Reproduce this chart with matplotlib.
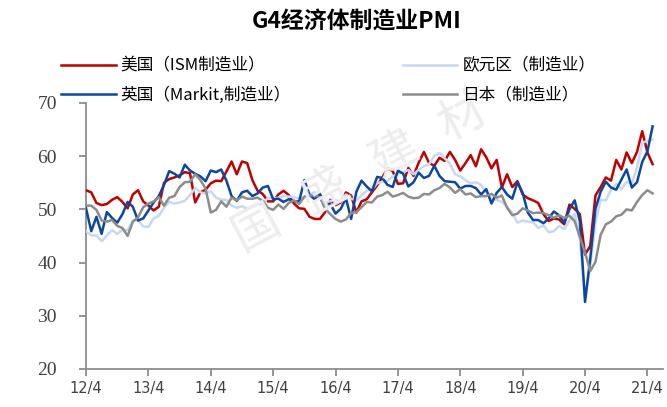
import numpy as np
import matplotlib
matplotlib.use("Agg")
import matplotlib.pyplot as plt

plt.rcParams['font.family'] = ['Noto Sans CJK SC', 'DejaVu Sans']

# monthly PMI, 2012/4 - 2021/5
us_ism = [
    53.6, 53.2, 51.2, 50.8, 51.0, 51.8, 52.3, 51.4, 50.2,
    52.8, 53.6, 51.5, 50.7, 49.8, 50.5, 55.0, 55.7, 56.0, 56.4, 57.0, 56.8,
    51.3, 53.2, 53.7, 54.9, 55.4, 55.3, 57.1, 59.0, 56.6, 59.0, 58.7, 55.5,
    53.5, 52.9, 51.5, 51.5, 52.8, 53.5, 52.7, 51.1, 50.2, 50.1, 48.6, 48.2,
    48.2, 49.5, 51.8, 50.8, 51.3, 53.2, 52.6, 49.4, 51.5, 51.9, 53.2, 54.5,
    56.0, 57.7, 57.2, 54.8, 54.9, 57.8, 56.3, 58.8, 60.8, 58.7, 58.2, 59.7,
    59.1, 60.8, 59.3, 57.3, 58.7, 60.2, 58.1, 61.3, 59.8, 57.7, 59.3, 54.1,
    56.6, 54.2, 55.3, 52.8, 52.1, 51.7, 51.2, 49.1, 47.8, 48.3, 48.1, 47.2,
    50.9, 50.1, 49.1, 41.5, 43.1, 52.6, 54.2, 56.0, 55.4, 59.3, 57.5, 60.7,
    58.7, 60.8, 64.7, 60.7, 58.5,
]
eurozone = [
    45.9, 45.1, 45.1, 44.0, 45.1, 46.1, 45.4, 46.2, 46.1,
    47.9, 47.9, 46.8, 46.7, 48.3, 48.8, 50.3, 51.4, 51.1, 51.3, 51.6, 52.7,
    54.0, 53.2, 53.0, 53.4, 52.2, 51.8, 51.8, 50.7, 50.3, 50.6, 50.1, 50.6,
    51.0, 51.0, 52.2, 52.0, 52.2, 52.5, 52.4, 52.3, 52.0, 52.3, 52.8, 53.2,
    52.3, 51.2, 51.6, 51.7, 51.5, 52.8, 52.0, 51.7, 52.6, 53.5, 53.7, 54.9,
    55.2, 55.4, 56.2, 56.7, 57.0, 57.4, 56.6, 57.4, 58.1, 58.5, 60.1, 60.6,
    59.6, 58.6, 56.6, 56.2, 55.5, 54.9, 55.1, 54.6, 53.2, 52.0, 51.8, 51.4,
    50.5, 49.3, 47.5, 47.9, 47.7, 47.6, 46.5, 47.0, 45.7, 45.9, 46.9, 46.3,
    47.9, 49.2, 44.5, 33.4, 39.4, 47.4, 51.8, 51.7, 53.7, 54.8, 53.8, 55.2,
    54.8, 57.9, 62.5, 62.9, 63.1,
]
uk_markit = [
    50.2, 45.9, 48.6, 45.4, 49.5, 48.4, 47.5, 49.1, 51.4,
    50.5, 47.9, 48.3, 49.8, 51.3, 52.5, 54.6, 57.2, 56.7, 56.0, 58.4, 57.3,
    56.7, 56.2, 55.3, 57.3, 57.0, 57.5, 55.4, 52.5, 51.6, 53.2, 53.5, 52.5,
    53.0, 54.1, 54.4, 51.9, 52.0, 51.4, 51.9, 51.5, 51.5, 55.5, 52.7, 51.9,
    52.9, 50.8, 51.0, 49.2, 50.1, 52.1, 48.2, 53.3, 55.4, 54.3, 53.4, 56.1,
    55.9, 54.6, 54.2, 57.3, 56.7, 54.3, 55.1, 56.9, 55.9, 56.3, 58.2, 56.3,
    55.3, 55.2, 55.1, 53.9, 54.4, 54.4, 54.0, 52.8, 53.8, 51.1, 53.1, 54.2,
    52.8, 52.0, 55.1, 53.1, 49.4, 48.0, 48.0, 47.4, 48.3, 49.6, 48.9, 47.5,
    50.0, 51.7, 47.8, 32.6, 40.7, 50.1, 53.3, 55.2, 54.1, 53.7, 55.6, 57.5,
    54.1, 55.1, 58.9, 60.9, 65.6,
]
japan = [
    50.7, 50.7, 49.9, 47.9, 47.7, 48.0, 46.9, 46.5, 45.0,
    47.7, 48.5, 50.4, 51.1, 51.5, 52.3, 50.7, 52.2, 52.5, 54.2, 55.1, 55.2,
    56.6, 55.5, 53.9, 49.4, 49.9, 51.5, 50.5, 52.2, 51.7, 52.4, 52.0, 52.0,
    52.2, 51.6, 50.3, 49.9, 50.9, 50.1, 51.2, 51.7, 51.0, 52.4, 52.6, 52.6,
    52.3, 50.1, 49.1, 48.2, 47.7, 48.1, 49.3, 49.5, 50.4, 51.4, 51.3, 52.4,
    52.7, 53.3, 52.4, 52.7, 53.1, 52.4, 52.1, 52.2, 52.9, 52.8, 53.6, 54.0,
    54.8, 54.1, 53.1, 53.8, 52.8, 53.0, 52.3, 52.5, 52.5, 52.9, 52.2, 52.6,
    50.3, 48.9, 49.2, 50.2, 49.8, 49.3, 49.4, 49.3, 48.9, 48.4, 48.9, 48.4,
    48.8, 47.8, 44.8, 41.9, 38.4, 40.1, 45.2, 47.2, 47.7, 48.7, 49.0, 50.0,
    49.8, 51.4, 52.7, 53.6, 53.0,
]
tick_labels = ["12/4", "13/4", "14/4", "15/4", "16/4", "17/4", "18/4", "19/4", "20/4", "21/4"]
series_names = ["美国（ISM制造业）", "欧元区（制造业）", "英国（Markit,制造业）", "日本（制造业）"]
colors = ["#C00000", "#C6D9F1", "#0B47A1", "#8C8C8C"]

fig = plt.figure(figsize=(6.67, 4.07), dpi=100)
ax = fig.add_axes([0.129, 0.0934, 0.865, 0.6536])

x = np.arange(len(us_ism))
handles = []
for vals, name, c in zip([us_ism, eurozone, uk_markit, japan], series_names, colors):
    h, = ax.plot(x, vals, color=c, lw=1.8, label=name, zorder=3, solid_joinstyle="round")
    handles.append(h)

ax.set_xlim(0, 111)
ax.set_ylim(20, 70)
ax.set_yticks(range(20, 71, 10))
ax.set_xticks(np.arange(0, len(tick_labels) * 12, 12))
ax.set_xticklabels(tick_labels, fontsize=10.5, color="#404040", family="DejaVu Sans")
for lab in ax.get_yticklabels():
    lab.set_fontfamily("Liberation Serif")
    lab.set_fontsize(14)
    lab.set_color("#404040")
for s in ["top", "right"]:
    ax.spines[s].set_visible(False)
for s in ["left", "bottom"]:
    ax.spines[s].set_color("#8C8C8C")
    ax.spines[s].set_linewidth(1.3)
ax.tick_params(axis="both", direction="out", length=5, width=1.3, color="#8C8C8C")
ax.tick_params(axis="y", pad=16)
ax.tick_params(axis="x", pad=4)

# watermark
for i, ch in enumerate("国盛建材"):
    fig.text(0.385 + i * 0.103, 0.44 + i * 0.09, ch, fontsize=34, color="#EDEDED",
             rotation=28, ha="center", va="center", zorder=0)

fig.text(0.535, 0.946, "G4经济体制造业PMI", ha="center", va="center",
         fontsize=16.5, fontweight="bold", color="#000000")

order = [0, 2, 1, 3]
fig.legend([handles[i] for i in order], [series_names[i] for i in order],
           ncol=2, loc="upper left", bbox_to_anchor=(0.082, 0.875),
           frameon=False, fontsize=12, handlelength=3.25, handletextpad=0.3,
           columnspacing=6.75, labelspacing=0.72, borderaxespad=0)

plt.savefig("out.png", dpi=100)
print("saved out.png")
